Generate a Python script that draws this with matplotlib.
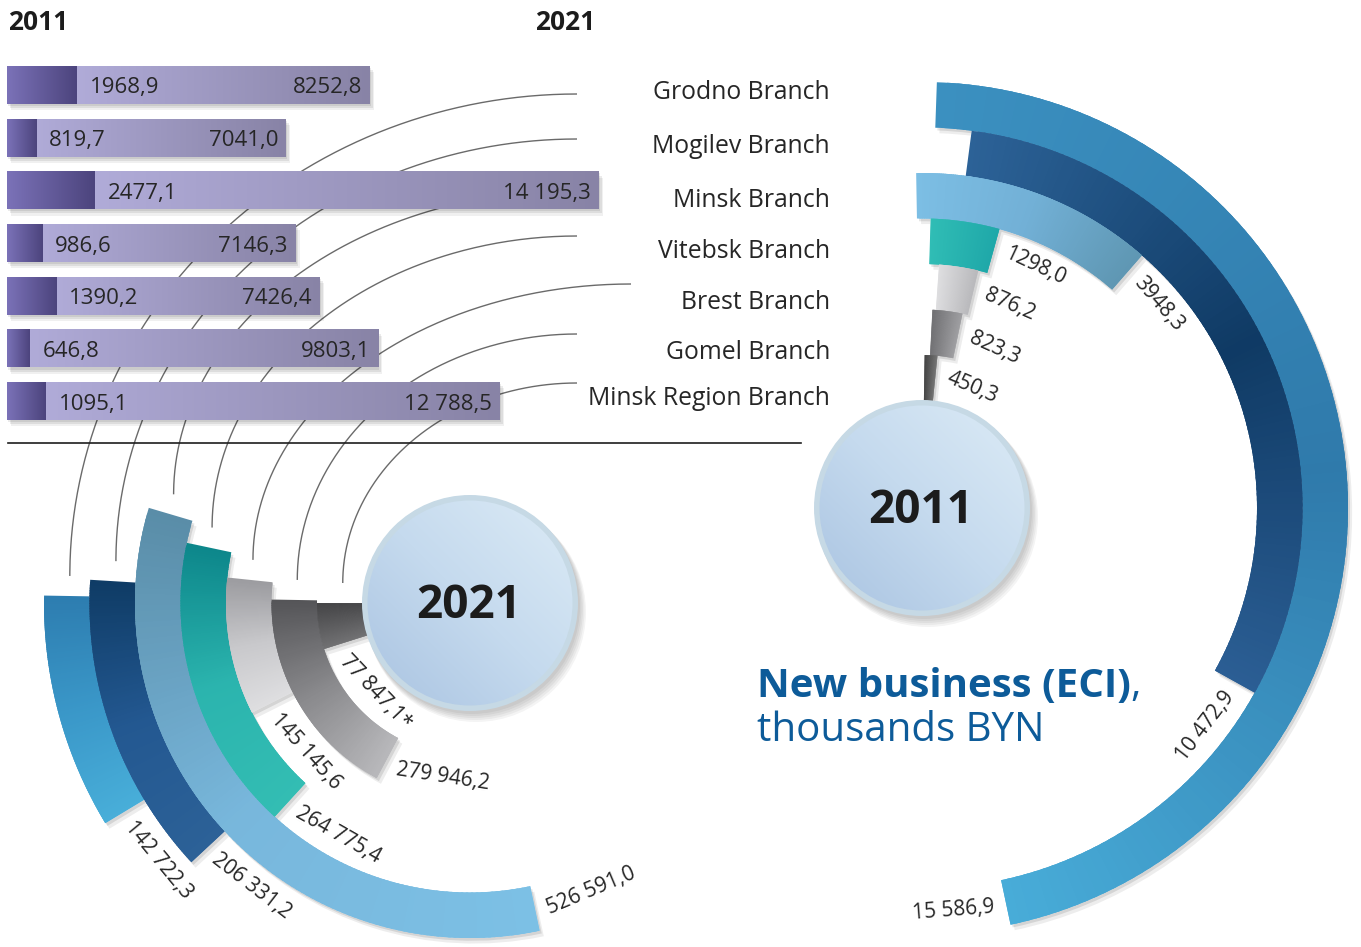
import numpy as np
import matplotlib
matplotlib.use('Agg')
import matplotlib.pyplot as plt
from matplotlib.colors import LinearSegmentedColormap
from matplotlib.patches import Circle
import matplotlib.patheffects as pe

# ---------------- data ----------------
branches = ['Grodno Branch', 'Mogilev Branch', 'Minsk Branch', 'Vitebsk Branch',
            'Brest Branch', 'Gomel Branch', 'Minsk Region Branch']
bar_2011 = [1968.9, 819.7, 2477.1, 986.6, 1390.2, 646.8, 1095.1]
bar_2021 = [8252.8, 7041.0, 14195.3, 7146.3, 7426.4, 9803.1, 12788.5]
bar_2011_labels = ['1968,9', '819,7', '2477,1', '986,6', '1390,2', '646,8', '1095,1']
bar_2021_labels = ['8252,8', '7041,0', '14 195,3', '7146,3', '7426,4', '9803,1', '12 788,5']
eci_2011 = [15586.9, 10472.9, 3948.3, 1298.0, 876.2, 823.3, 450.3]
eci_2011_labels = ['15 586,9', '10 472,9', '3948,3', '1298,0', '876,2', '823,3', '450,3']
eci_2021 = [142722.3, 206331.2, 526591.0, 264775.4, 145145.6, 279946.2, 77847.1]
eci_2021_labels = ['142 722,3', '206 331,2', '526 591,0', '264 775,4', '145 145,6',
                   '279 946,2', '77 847,1*']

# ---------------- style / layout ----------------
FONT = 'Open Sans'
plt.rcParams['font.family'] = [FONT, 'DejaVu Sans']
TXT = '#262626'
BLUE_T = '#0d5b99'
W, H = 1361, 947

stops_2011 = [['#3b90c0', '#2f7aab', '#48acd8'],
              ['#2c6297', '#0f3a64', '#2b5e94'],
              ['#7cbee4', '#72b0d6', '#5f97b3'],
              ['#30bdb5', '#1fa8a9'],
              ['#dedee0', '#b9b9bc'],
              ['#6d6d70', '#9d9da0'],
              ['#3a3a3a', '#6e6e6e']]
stops_2021 = [['#2d7db0', '#3a97c8', '#48aed9'],
              ['#0f3c66', '#235891', '#2c6197'],
              ['#5a8da8', '#78b7dc', '#7cc0e5'],
              ['#0d878b', '#2bb4ae', '#33bdb3'],
              ['#9c9ca0', '#c8c8cb', '#dedee0'],
              ['#555558', '#8a8a8d', '#b8b8bb'],
              ['#444446', '#707072']]
start_2011 = [2.0, 7.5, -1.0, 1.7, 4.0, 3.0, 1.0]        # deg clockwise from north
start_2021 = [-1.0, -3.5, -16.5, -12.0, -6.0, -1.0, 0.0]  # deg counter-clockwise from west
C11 = (922, 508)
C21 = (470, 603)
R0, RW = 107.5, 45.5
conn_start = [(577, 94), (577, 139), (577, 190), (577, 236), (631, 284), (577, 334), (577, 383)]
label_y = [92, 146, 200, 251, 302, 352, 398]

fig = plt.figure(figsize=(W / 100, H / 100), dpi=100)
fig.patch.set_facecolor('white')


def full_ax(z):
    a = fig.add_axes([0, 0, 1, 1], zorder=z)
    a.set_xlim(0, W)
    a.set_ylim(H, 0)
    a.axis('off')
    a.patch.set_alpha(0)
    return a


ax_bg = full_ax(0)

# ---------------- horizontal stacked bars ----------------
PX_PER_UNIT = 0.0355
bx0, bw_px = 7, 620
ytop, slot = 58.6, 52.7
n = len(branches)
ax_bar = fig.add_axes([bx0 / W, (H - ytop - n * slot) / H, bw_px / W, n * slot / H], zorder=1)
ax_bar.axis('off')
ax_bar.patch.set_alpha(0)
ypos = np.arange(n)
totals = np.add(bar_2011, bar_2021)
shadow_fx = [pe.SimplePatchShadow(offset=(1, -1.5), shadow_rgbFace='k', alpha=0.08),
             pe.SimplePatchShadow(offset=(2, -3), shadow_rgbFace='k', alpha=0.08),
             pe.SimplePatchShadow(offset=(3, -4.5), shadow_rgbFace='k', alpha=0.06)]
BH = 0.72
ax_bar.barh(ypos, totals, height=BH, color='white', path_effects=shadow_fx + [pe.Normal()])
bars_d = ax_bar.barh(ypos, bar_2011, height=BH, color='none', edgecolor='none')
bars_l = ax_bar.barh(ypos, bar_2021, left=bar_2011, height=BH, color='none', edgecolor='none')
cm_d = LinearSegmentedColormap.from_list('d', ['#7b72b8', '#4c447d'])
cm_l = LinearSegmentedColormap.from_list('l', ['#b0abd8', '#8883a6'])
grad = np.linspace(0, 1, 256).reshape(1, -1)
for i in range(n):
    for bars, cm, x0, x1 in ((bars_l, cm_l, bar_2011[i], totals[i]),
                             (bars_d, cm_d, 0, bar_2011[i])):
        im = ax_bar.imshow(grad, extent=(x0, x1, i + BH / 2, i - BH / 2), cmap=cm,
                           aspect='auto', interpolation='bilinear', zorder=3)
        im.set_clip_path(bars[i])
    ax_bar.annotate(bar_2011_labels[i], xy=(bar_2011[i], i), xytext=(13, -3),
                    textcoords='offset pixels', ha='left', va='center',
                    fontsize=16, color=TXT, zorder=5)
    ax_bar.annotate(bar_2021_labels[i], xy=(totals[i], i), xytext=(-8, -3),
                    textcoords='offset pixels', ha='right', va='center',
                    fontsize=16, color=TXT, zorder=5)
ax_bar.set_xlim(0, bw_px / PX_PER_UNIT)
ax_bar.set_ylim(n - 0.5, -0.5)

# ---------------- radial charts ----------------
RMAX = 440


def polar_ax(c, zero, direction):
    cx, cy = c
    a = fig.add_axes([(cx - RMAX) / W, (H - cy - RMAX) / H, 2 * RMAX / W, 2 * RMAX / H],
                     projection='polar', zorder=2)
    a.set_theta_zero_location(zero)
    a.set_theta_direction(direction)
    a.set_ylim(0, RMAX)
    a.axis('off')
    a.patch.set_alpha(0)
    return a


def ring_chart(ax, values, starts, max_deg, stops_list):
    vmax = max(values)
    spans = []
    ring_fx = [pe.SimplePatchShadow(offset=(1.5, -2), shadow_rgbFace='k', alpha=0.10),
               pe.SimplePatchShadow(offset=(3, -4), shadow_rgbFace='k', alpha=0.07)]
    for i, (v, s) in enumerate(zip(values, starts)):
        span = v / vmax * max_deg
        spans.append(span)
        r_in = R0 + (n - 1 - i) * RW
        ax.bar(np.radians(s + span / 2), RW, width=np.radians(span), bottom=r_in,
               color='white', edgecolor='none', path_effects=ring_fx + [pe.Normal()], zorder=1)
    for i, (v, s) in enumerate(zip(values, starts)):
        span = spans[i]
        r_in = R0 + (n - 1 - i) * RW
        cm = LinearSegmentedColormap.from_list('r', stops_list[i])
        nseg = 120
        edges = np.radians(np.linspace(s, s + span, nseg + 1))
        dw = edges[1] - edges[0]
        end = edges[-1]
        lefts = edges[:-1]
        widths = np.minimum(2.5 * dw, end - lefts)
        cols = cm(np.linspace(0, 1, nseg))
        ax.bar(lefts, RW, width=widths, bottom=r_in, align='edge',
               color=cols, edgecolor='none', linewidth=0, zorder=2)
    ax.set_ylim(0, RMAX)
    return spans


ax11 = polar_ax(C11, 'N', -1)
spans11 = ring_chart(ax11, eci_2011, start_2011, 166.0, stops_2011)
ax21 = polar_ax(C21, 'W', 1)
spans21 = ring_chart(ax21, eci_2021, start_2021, 118.5, stops_2021)

ax_fg = full_ax(3)
renderer = fig.canvas.get_renderer()


def ring_labels(c, starts, spans, labels, cw):
    cx, cy = c
    for i in range(n):
        r_mid = R0 + (n - 1 - i) * RW + RW / 2
        t = ax_fg.text(0, 0, labels[i], fontsize=15)
        wpx = t.get_window_extent(renderer).width
        t.remove()
        off = np.degrees((12.0 + wpx / 2) / r_mid)
        if cw:
            a = 90 - (starts[i] + spans[i]) - off
            d = a - 90
        else:
            a = 180 + starts[i] + spans[i] + off
            d = a + 90
        d = (d + 180) % 360 - 180
        if not (-90 < d <= 90):
            d = (d + 360) % 360 - 180
        x = cx + r_mid * np.cos(np.radians(a))
        y = cy - r_mid * np.sin(np.radians(a))
        ax_fg.text(x, y, labels[i], rotation=d, rotation_mode='anchor', ha='center',
                   va='center', fontsize=15, color=TXT, zorder=4)


ring_labels(C11, start_2011, spans11, eci_2011_labels, True)
ring_labels(C21, start_2021, spans21, eci_2021_labels, False)

# ---------------- connectors ----------------
phi = np.linspace(0, np.pi / 2, 200)
for i in range(n):
    x1, y1 = conn_start[i]
    r_mid = R0 + (n - 1 - i) * RW + RW / 2
    a = np.radians(180 + start_2021[i])
    x2 = C21[0] + r_mid * np.cos(a) + 3
    y2 = C21[1] - r_mid * np.sin(a) - 20
    xs = x1 - (x1 - x2) * np.sin(phi)
    ys = y2 - (y2 - y1) * np.cos(phi)
    ax_bg.plot(xs, ys, color='#6a6a6a', lw=1.0, solid_capstyle='butt')
ax_bg.plot([8, 801], [443, 443], color='#1e1e1e', lw=1.2)

# ---------------- center circles ----------------
cm_c = LinearSegmentedColormap.from_list('c', ['#a9c3e1', '#c5daee', '#dcebf6'])
gy, gx = np.mgrid[0:1:200j, 0:1:200j]
gcirc = (gx - gy + 1) / 2
for (cx, cy), year in ((C11, '2011'), (C21, '2021')):
    for k in range(5):
        ax_fg.add_patch(Circle((cx + 2 + k, cy + 3 + 1.5 * k), 108 + 0.5 * k, color='k',
                               alpha=0.045, lw=0, zorder=1))
    ax_fg.add_patch(Circle((cx, cy), 108, color='#c6d9e5', lw=0, zorder=1.5))
    inner = Circle((cx, cy), 102.5, facecolor='none', edgecolor='none', lw=0, zorder=1.6)
    ax_fg.add_patch(inner)
    im = ax_fg.imshow(gcirc, extent=(cx - 103, cx + 103, cy + 103, cy - 103), cmap=cm_c,
                      aspect='auto', interpolation='bilinear', zorder=2)
    im.set_clip_path(inner)
    ax_fg.text(cx - 1, cy + 2, year, ha='center', va='center', fontsize=33,
               fontweight='bold', color='#1c1c1c', zorder=4)

# ---------------- texts ----------------
for i, b in enumerate(branches):
    ax_fg.text(830, label_y[i], b, ha='right', va='center', fontsize=17.8, color=TXT, zorder=4)
ax_fg.text(8, 22, '2011', ha='left', va='center', fontsize=19, fontweight='bold',
           color='#1c1c1c', zorder=4)
ax_fg.text(535, 22, '2021', ha='left', va='center', fontsize=19, fontweight='bold',
           color='#1c1c1c', zorder=4)
t1 = ax_fg.text(757, 686, 'New business (ECI)', ha='left', va='center', fontsize=29,
                fontweight='bold', color=BLUE_T, zorder=4)
ax_fg.annotate(',', xycoords=t1, xy=(1, 0.5), ha='left', va='center', fontsize=29,
               color=BLUE_T, zorder=4)
ax_fg.text(757, 731, 'thousands BYN', ha='left', va='center', fontsize=29, color=BLUE_T, zorder=4)

ax_fg.set_xlim(0, W)
ax_fg.set_ylim(H, 0)
fig.savefig('out.png', dpi=100, facecolor='white')
